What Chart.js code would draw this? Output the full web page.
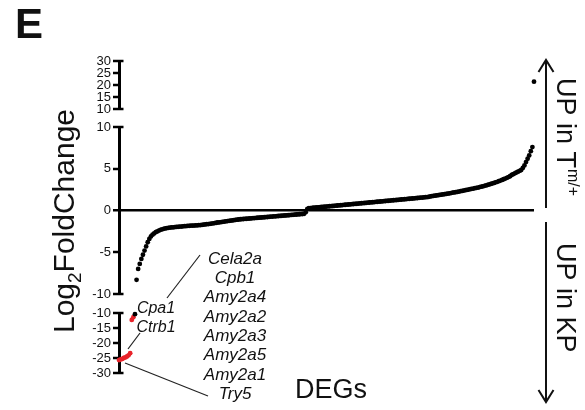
<!DOCTYPE html>
<html><head><meta charset="utf-8">
<script src="https://cdn.jsdelivr.net/npm/chart.js@4.4.1/dist/chart.umd.min.js"></script>
<style>
html,body{margin:0;padding:0;background:#fff;}
#wrap{position:relative;width:585px;height:410px;overflow:hidden;background:#fff;}
#wrap canvas{position:absolute;left:0;top:0;}
</style></head><body>
<div id="wrap">
<canvas id="cTop" width="585" height="410"></canvas>
<canvas id="cMid" width="585" height="410"></canvas>
<canvas id="cLow" width="585" height="410"></canvas>
</div>
<script>
// Log2 fold change of every DEG, sorted from lowest to highest (rank order)
const log2FC = [
-25.7,-25.5,-25.3,-25.0,-24.8,-24.5,-24.1,-23.4,-12.3,-11.4,
-10.4,
-8.3,-7.0,-6.4,-5.8,-5.3,-4.8,-4.3,-3.8,-3.4,-3.1,-2.9,-2.75,-2.6,-2.5,-2.4,-2.32,-2.25,-2.2,-2.15,-2.1,
-2.07,-2.05,-2.03,-2.01,-1.99,-1.97,-1.95,-1.93,-1.92,-1.9,-1.88,-1.87,-1.85,-1.84,-1.82,-1.81,-1.8,-1.79,-1.78,-1.76,-1.75,
-1.73,-1.7,-1.67,-1.64,-1.62,-1.59,-1.56,-1.53,-1.5,-1.47,-1.44,-1.42,-1.39,-1.36,-1.33,-1.3,-1.27,-1.24,-1.22,-1.19,-1.16,-1.13,-1.1,-1.08,-1.05,
-1.04,-1.02,-1.0,-0.99,-0.97,-0.96,-0.94,-0.92,-0.91,-0.89,-0.87,-0.86,-0.84,-0.83,-0.81,-0.79,-0.78,-0.76,-0.74,-0.73,
-0.71,-0.7,-0.68,-0.66,-0.65,-0.63,-0.61,-0.6,-0.58,-0.57,-0.55,-0.53,-0.52,-0.5,-0.48,-0.47,-0.45,-0.43,-0.42,-0.4,
-0.2,0.2,0.27,
0.29,0.31,0.33,0.35,0.36,0.38,0.4,0.42,0.44,0.45,0.47,0.49,0.51,0.53,0.54,0.56,0.58,0.6,0.62,0.63,
0.65,0.67,0.69,0.71,0.72,0.74,0.76,0.78,0.8,0.81,0.83,0.85,0.87,0.89,0.9,0.92,0.94,0.96,0.98,0.99,
1.01,1.03,1.05,1.07,1.08,1.1,1.12,1.14,1.16,1.17,1.19,1.21,1.23,1.25,1.26,1.28,1.3,1.32,1.34,1.35,
1.37,1.39,1.41,1.43,1.44,1.46,1.48,1.5,1.52,1.53,1.55,1.57,1.59,1.61,1.63,
1.68,1.71,1.74,1.77,1.8,1.83,1.86,1.89,1.92,1.96,1.99,2.02,2.06,2.09,2.13,2.16,2.2,2.23,2.27,2.31,
2.35,2.39,2.43,2.47,2.51,2.55,2.59,2.63,2.67,2.71,2.75,2.8,2.85,
2.9,2.95,3.0,3.06,3.12,3.18,3.24,3.3,3.37,3.44,3.51,3.58,3.66,3.74,3.82,3.91,4.0,4.1,4.25,
4.35,4.45,4.55,4.65,4.75,4.85,
5.1,5.4,5.8,6.2,6.6,7.1,7.6,
21.4
];
// the lowest-ranked genes that are highlighted in red
const highlightedCount = 10;
const clusterGenes = ['Cela2a','Cpb1','Amy2a4','Amy2a2','Amy2a3','Amy2a5','Amy2a1','Try5'];
const nearGenes = ['Cpa1','Ctrb1'];
// tick labels of the three axis segments
const topTicks = [10,15,20,25,30];
const midTicks = [-10,-5,0,5,10];
const lowTicks = [-30,-25,-20,-15,-10];
const yTitle = ['Log','2','FoldChange'];
const xTitle = 'DEGs';
const upText = ['UP in T','m/+'];
const downText = 'UP in KP';

const FONT = '"Liberation Sans", Arial, Helvetica, sans-serif';
const RED = '#e8232a';
const AXIS_X = 119, RIGHT = 534;

const segments = [
  {id:'cTop', min:10, max:30, ticks:topTicks, top:61, bottom:109, zero:false},
  {id:'cMid', min:-10, max:10, ticks:midTicks, top:127, bottom:294, zero:true},
  {id:'cLow', min:-30, max:-10, ticks:lowTicks, top:313, bottom:373, zero:false}
];

const capPlugin = {
  id:'caps',
  afterDraw(chart){
    const c = chart.ctx, a = chart.chartArea;
    c.save(); c.strokeStyle='#000'; c.lineWidth=2.5;
    [a.top, a.bottom].forEach(y=>{ c.beginPath(); c.moveTo(a.left-1, y); c.lineTo(a.left+4.5, y); c.stroke(); });
    c.restore();
  }
};

const annotPlugin = {
  id:'annot',
  afterDraw(chart){
    const c = chart.ctx;
    c.save();
    c.fillStyle = '#111';
    // panel letter
    c.font = 'bold 42px ' + FONT; c.textBaseline='alphabetic'; c.textAlign='left';
    c.fillText('E', 15, 38);
    // y title (rotated)
    c.save();
    c.translate(74, 221); c.rotate(-Math.PI/2);
    const big = '30px ' + FONT, small = '19px ' + FONT;
    c.font = big; const w1 = c.measureText(yTitle[0]).width, w3 = c.measureText(yTitle[2]).width;
    c.font = small; const w2 = c.measureText(yTitle[1]).width;
    let x0 = -(w1+w2+w3)/2;
    c.font = big; c.fillText(yTitle[0], x0, 0);
    c.font = small; c.fillText(yTitle[1], x0+w1, 7);
    c.font = big; c.fillText(yTitle[2], x0+w1+w2, 0);
    c.restore();
    // x title
    c.font = '27px ' + FONT; c.textAlign='center';
    c.fillText(xTitle, 331, 398);
    // gene labels
    c.font = 'italic 17px ' + FONT; c.textAlign='center'; c.textBaseline='middle';
    clusterGenes.forEach((g,i)=> c.fillText(g, 235, 259 + i*19.3));
    c.font = 'italic 16px ' + FONT;
    nearGenes.forEach((g,i)=> c.fillText(g, 156, 309 + i*18.5));
    // leader lines
    c.strokeStyle='#222'; c.lineWidth=1.2;
    c.beginPath(); c.moveTo(200,255); c.lineTo(167,298); c.stroke();
    c.beginPath(); c.moveTo(140,333); c.lineTo(128,349); c.stroke();
    c.beginPath(); c.moveTo(125,363); c.lineTo(208,396); c.stroke();
    // arrows
    c.strokeStyle='#111'; c.lineWidth=2;
    c.beginPath(); c.moveTo(546,61); c.lineTo(546,208); c.stroke();
    c.beginPath(); c.moveTo(538.5,72); c.lineTo(546,60); c.lineTo(553.5,72); c.stroke();
    c.beginPath(); c.moveTo(546,222); c.lineTo(546,401); c.stroke();
    c.beginPath(); c.moveTo(538.5,390); c.lineTo(546,402); c.lineTo(553.5,390); c.stroke();
    // arrow texts (rotated clockwise)
    c.textAlign='left'; c.textBaseline='alphabetic';
    c.save(); c.translate(557, 78); c.rotate(Math.PI/2);
    c.font = '27px ' + FONT; c.fillText(upText[0], 0, 0);
    const wu = c.measureText(upText[0]).width;
    c.font = '16px ' + FONT; c.fillText(upText[1], wu+1, -11);
    c.restore();
    c.save(); c.translate(557, 243); c.rotate(Math.PI/2);
    c.font = '27px ' + FONT; c.fillText(downText, 0, 0);
    c.restore();
    c.restore();
  }
};

segments.forEach(seg=>{
  const pts = log2FC.map((v,i)=>({x:i+1, y:v})).filter(p=>p.y>=seg.min && p.y<=seg.max);
  new Chart(document.getElementById(seg.id), {
    type:'scatter',
    data:{datasets:[{
      data:pts, pointRadius:2.4, pointHoverRadius:2.4, pointBorderWidth:0,
      pointBackgroundColor: ctx => (ctx.raw && ctx.raw.x <= highlightedCount) ? RED : '#000',
      clip:false
    }]},
    options:{
      responsive:false, animation:false, devicePixelRatio:1,
      layout:{padding:{left:AXIS_X-40, right:585-RIGHT, top:seg.top, bottom:410-seg.bottom}},
      plugins:{legend:{display:false}, tooltip:{enabled:false}},
      events:[],
      scales:{
        x:{type:'linear', min:1, max:log2FC.length, display:false},
        y:{
          min:seg.min, max:seg.max,
          afterFit: s => { s.width = 40; },
          afterBuildTicks: s => { s.ticks = seg.ticks.map(v=>({value:v})); },
          border:{display:true, color:'#000', width:3},
          grid:{display:true, drawOnChartArea:seg.zero,
            color: c => (c.tick && c.tick.value===0) ? '#000' : 'rgba(0,0,0,0)',
            lineWidth: c => (c.tick && c.tick.value===0) ? 2.5 : 0,
            tickColor:'#000', tickWidth:2.5, tickLength:6},
          ticks:{color:'#111', font:{family:FONT, size:13}, padding:2, autoSkip:false}
        }
      }
    },
    plugins: seg.zero ? [capPlugin, annotPlugin] : [capPlugin]
  });
});
</script>
</body></html>
